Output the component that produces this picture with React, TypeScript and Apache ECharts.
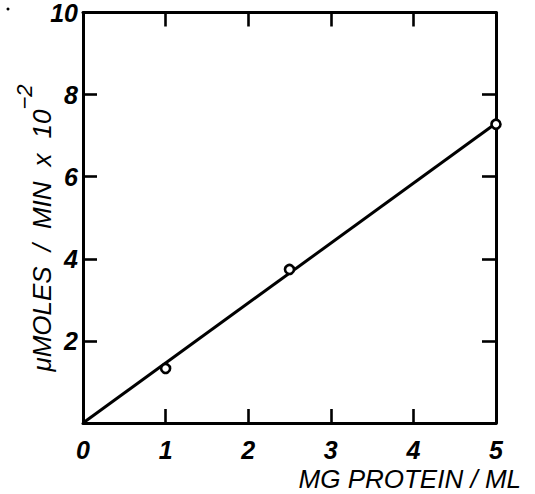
import React, { useEffect, useRef } from "react";
import * as echarts from "echarts";

const xTicks = [0, 1, 2, 3, 4, 5];
const yTicks = [0, 2, 4, 6, 8, 10];
const measuredPoints: [number, number][] = [
  [1, 1.33],
  [2.5, 3.74],
  [5, 7.28],
];
const fitLine: [number, number][] = [
  [0, 0],
  [5, 7.3],
];
const xTitle = "MG PROTEIN / ML";
const yTitleWords = ["\u03BCMOLES", "/", "MIN", "x", "10"];
const yTitleSup = "\u22122";

const FONT = "Liberation Sans";

export default function App() {
  const ref = useRef<HTMLDivElement>(null);
  useEffect(() => {
    document.body.style.margin = "0";
    const chart = echarts.init(ref.current!, undefined, { renderer: "svg" });
    const axisLine = { show: true, onZero: false, lineStyle: { color: "#000", width: 3 } };
    const axisTick = { show: true, inside: true, length: 14, lineStyle: { color: "#000", width: 2.6 } };
    const labelStyle = {
      color: "#000",
      fontSize: 25,
      fontStyle: "italic" as const,
      fontWeight: "bold" as const,
      fontFamily: FONT,
    };
    const yTitleText =
      yTitleWords.map((w) => `{m|${w}}`).join("{g| }") + `{s|${yTitleSup}}`;
    chart.setOption({
      animation: false,
      backgroundColor: "#fff",
      grid: { left: 83, right: 39, top: 12, bottom: 71, containLabel: false },
      xAxis: [
        {
          type: "value",
          min: xTicks[0],
          max: xTicks[xTicks.length - 1],
          interval: 1,
          position: "bottom",
          axisLine,
          axisTick,
          splitLine: { show: false },
          axisLabel: { ...labelStyle, margin: 14, showMaxLabel: true, showMinLabel: true },
        },
        {
          type: "value",
          min: xTicks[0],
          max: xTicks[xTicks.length - 1],
          interval: 1,
          position: "top",
          axisLine,
          axisTick,
          splitLine: { show: false },
          axisLabel: { show: false },
        },
      ],
      yAxis: [
        {
          type: "value",
          min: yTicks[0],
          max: yTicks[yTicks.length - 1],
          interval: 2,
          position: "left",
          axisLine,
          axisTick,
          splitLine: { show: false },
          axisLabel: {
            ...labelStyle,
            margin: 5,
            formatter: (v: number) => (v === 0 ? "" : String(v)),
          },
        },
        {
          type: "value",
          min: yTicks[0],
          max: yTicks[yTicks.length - 1],
          interval: 2,
          position: "right",
          axisLine,
          axisTick,
          splitLine: { show: false },
          axisLabel: { show: false },
        },
      ],
      series: [
        {
          type: "line",
          data: fitLine,
          showSymbol: false,
          symbol: "none",
          lineStyle: { color: "#000", width: 3 },
          z: 2,
        },
        {
          type: "scatter",
          data: measuredPoints,
          symbol: "circle",
          symbolSize: 9,
          itemStyle: { color: "#fff", borderColor: "#000", borderWidth: 2.6, opacity: 1 },
          z: 3,
        },
      ],
      graphic: [
        {
          type: "text",
          right: 14,
          top: 466,
          style: {
            text: xTitle,
            fill: "#000",
            fontSize: 26,
            fontStyle: "italic",
            fontFamily: FONT,
          },
        },
        {
          type: "text",
          x: 34,
          y: 228,
          rotation: Math.PI / 2,
          style: {
            text: yTitleText,
            align: "center",
            verticalAlign: "middle",
            fill: "#000",
            rich: {
              m: {
                fontSize: 26,
                fontStyle: "italic",
                fontFamily: FONT,
                lineHeight: 42,
                verticalAlign: "bottom",
                fill: "#000",
              },
              g: {
                fontSize: 26,
                fontFamily: FONT,
                width: 15,
                lineHeight: 42,
                verticalAlign: "bottom",
              },
              s: {
                fontSize: 22,
                fontStyle: "italic",
                fontFamily: FONT,
                lineHeight: 20,
                verticalAlign: "top",
                fill: "#000",
              },
            },
          },
        },
        {
          type: "circle",
          shape: { cx: 8, cy: 9, r: 1.5 },
          style: { fill: "#000" },
        },
      ],
    });
    return () => chart.dispose();
  }, []);
  return <div ref={ref} style={{ width: 535, height: 494 }} />;
}
